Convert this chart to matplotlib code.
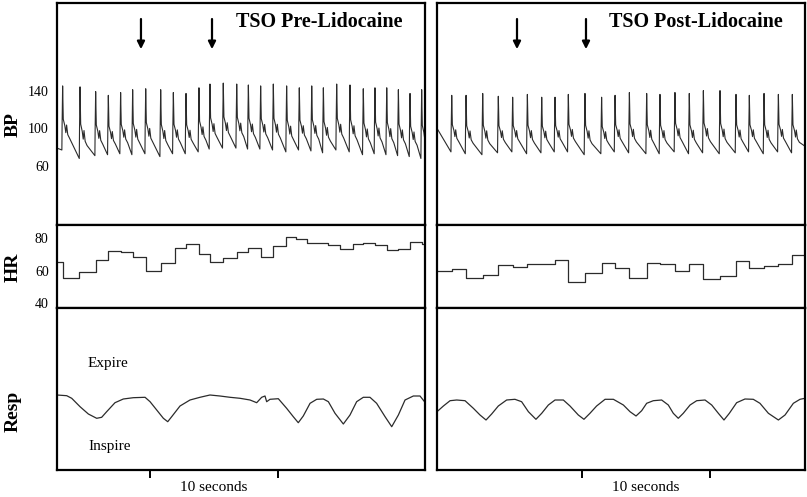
import matplotlib
matplotlib.use("Agg")
import matplotlib.pyplot as plt

plt.rcParams['font.family'] = ['Liberation Serif', 'DejaVu Serif']

XMAX = 28.75  # seconds shown in each panel

# ---- blood pressure, one entry per beat (peak time s, systolic, diastolic mmHg)
pre_peak_t = [0.44, 1.80, 3.02, 4.01, 4.97, 5.91, 6.93, 8.10, 9.09, 10.08,
              11.09, 11.95, 12.99, 14.04, 14.95, 15.91, 16.90, 17.94, 18.93, 19.90,
              20.81, 21.85, 22.89, 23.93, 24.84, 25.76, 26.67, 27.58, 28.49]
pre_sys = [145, 144, 139, 135, 138, 141, 142, 141, 138, 137,
           143, 147, 148, 147, 146, 145, 147, 145, 143, 145,
           143, 147, 146, 142, 143, 143, 141, 137, 141]
pre_dia = [77, 68, 71, 72, 73, 72, 73, 70, 73, 73,
           75, 78, 79, 79, 78, 78, 77, 75, 77, 76,
           74, 77, 75, 72, 73, 72, 71, 70, 68]
pre_bp_start, pre_bp_end = 79, 88

post_peak_t = [1.15, 2.27, 3.57, 4.79, 5.91, 7.06, 8.18, 9.22, 10.26, 11.56,
               12.86, 13.91, 15.03, 16.38, 17.42, 18.59, 19.71, 20.81, 22.11, 23.36,
               24.40, 25.55, 26.67, 27.76]
post_sys = [135, 135, 137, 134, 133, 136, 133, 133, 136, 137,
            133, 135, 138, 137, 136, 138, 137, 140, 140, 136,
            135, 137, 136, 136]
post_dia = [75, 73, 72, 74, 75, 73, 74, 75, 75, 72,
            73, 75, 74, 73, 73, 75, 73, 74, 73, 74,
            75, 73, 75, 74]
post_bp_start, post_bp_end = 100, 81

# shape of one beat: time from peak (s) and level between diastolic (0) and systolic (1)
beat_offsets = [-0.06, -0.04, 0.0, 0.05, 0.17, 0.25, 0.31, 0.40, 0.55]
beat_levels = [0.0, 0.42, 1.0, 0.48, 0.38, 0.27, 0.39, 0.24, 0.18]

# ---- heart rate steps (change time s, bpm)
pre_hr_t = [0.44, 1.74, 3.02, 4.01, 4.97, 5.91, 6.93, 8.10, 9.22, 10.08,
            11.09, 11.95, 12.99, 14.04, 14.95, 15.91, 16.90, 17.89, 18.67, 19.50,
            21.20, 22.11, 23.10, 23.93, 24.84, 25.76, 26.67, 27.58, 28.49]
pre_hr = [65.3, 55.5, 59.2, 66.7, 72.2, 71.4, 68.2, 59.6, 65.1, 73.9,
          76.3, 70.4, 65.7, 67.6, 71.4, 73.9, 68.4, 75.3, 80.6, 79.4,
          77.4, 76.1, 73.5, 76.3, 77.3, 76.1, 72.9, 73.7, 77.6, 76.7]

post_hr_t = [1.15, 2.27, 3.57, 4.79, 5.91, 7.06, 9.22, 10.26, 11.56, 12.86,
             13.91, 15.03, 16.38, 17.42, 18.59, 19.71, 20.81, 22.11, 23.36, 24.40,
             25.55, 26.67, 27.76]
post_hr = [59.6, 61.4, 55.5, 57.3, 63.5, 62.2, 63.9, 66.7, 53.1, 58.6,
           65.1, 61.8, 55.5, 64.7, 64.1, 59.6, 64.1, 54.9, 57.1, 66.3,
           62.0, 63.1, 64.3, 69.6]

# ---- respiration (time s, arbitrary units)
pre_resp_t = [0.0, 0.76, 1.15, 1.80, 2.45, 3.10, 3.49, 3.88, 4.53, 5.18,
              5.96, 6.88, 7.27, 7.79, 8.31, 8.65, 8.96, 9.61, 10.39, 11.17,
              11.95, 12.73, 13.52, 14.30, 15.08, 15.60, 15.99, 16.25, 16.38, 16.64,
              17.29, 17.94, 18.46, 18.85, 19.24, 19.77, 20.29, 20.81, 21.20, 21.72,
              22.37, 22.89, 23.41, 23.93, 24.45, 24.97, 25.63, 26.15, 26.67, 27.19,
              27.84, 28.36, 28.75]
pre_resp = [75, 74.3, 71.7, 63.3, 56, 51.7, 52.7, 58.3, 67.3, 71,
            72.3, 72.7, 68.3, 60, 51.7, 48.3, 53.3, 64, 70, 72.7,
            75, 74, 72.7, 71.7, 70, 67.3, 72.7, 74, 68.3, 70.7,
            71.3, 61.7, 53.3, 47.3, 54, 66.7, 70.7, 71, 68.3, 56.7,
            46, 55, 68.3, 72.7, 72.7, 66.7, 53.3, 43.3, 55, 70,
            74, 74, 67.7]

post_resp_t = [0.0, 0.50, 1.02, 1.54, 2.19, 2.84, 3.36, 3.83, 4.27, 4.79,
               5.44, 6.09, 6.61, 7.14, 7.73, 8.18, 8.70, 9.22, 9.87, 10.39,
               11.04, 11.48, 11.95, 12.47, 13.13, 13.78, 14.56, 15.08, 15.55, 15.99,
               16.38, 16.90, 17.55, 18.07, 18.46, 18.85, 19.24, 19.77, 20.29, 20.94,
               21.46, 21.98, 22.42, 22.84, 23.41, 24.06, 24.71, 25.23, 25.89, 26.67,
               27.19, 27.84, 28.36, 28.75]
post_resp = [58.3, 64, 69.3, 70, 69.3, 61.7, 55, 50, 56, 64,
             70, 70.7, 68.3, 58.3, 50.7, 56.7, 65, 70, 70, 64,
             55, 50.7, 56.7, 64, 70.7, 70.7, 65, 58.3, 54, 59.3,
             66.7, 69.3, 70, 65, 56.7, 51.7, 56.7, 65, 69.3, 70,
             65, 56.7, 50, 56.7, 67.3, 71, 70.7, 66.7, 56.7, 50,
             55, 66.7, 70.7, 71.7]

pre_arrows = [6.56, 12.11]
post_arrows = [6.25, 11.64]
pre_ticks = [7.27, 17.27]
post_ticks = [11.33, 21.33]

panels = [
    ("TSO Pre-Lidocaine", pre_peak_t, pre_sys, pre_dia, pre_bp_start, pre_bp_end,
     pre_hr_t, pre_hr, pre_resp_t, pre_resp, pre_arrows, pre_ticks),
    ("TSO Post-Lidocaine", post_peak_t, post_sys, post_dia, post_bp_start, post_bp_end,
     post_hr_t, post_hr, post_resp_t, post_resp, post_arrows, post_ticks),
]


def bp_trace(peak_t, sys_v, dia_v, start, end):
    t, v = [0.0], [start]
    for tp, s, d in zip(peak_t, sys_v, dia_v):
        for off, lev in zip(beat_offsets, beat_levels):
            t.append(tp + off)
            v.append(d + lev * (s - d))
    if t[-1] < XMAX:
        t.append(XMAX)
        v.append(end)
    return t, v


W, H = 807, 497
fig = plt.figure(figsize=(W / 100, H / 100), dpi=100)
trace_color = '#2b2b2b'
spine_w = 1.6

for col, (title, pk, sy, di, st, en, hr_t, hr_v, rs_t, rs_v, arrows, ticks) in enumerate(panels):
    x0 = (57 if col == 0 else 437) / W
    wd = 368 / W
    ax_bp = fig.add_axes([x0, 1 - 225 / H, wd, 222 / H])
    ax_hr = fig.add_axes([x0, 1 - 308 / H, wd, 83 / H])
    ax_rs = fig.add_axes([x0, 1 - 470 / H, wd, 162 / H])

    t, v = bp_trace(pk, sy, di, st, en)
    ax_bp.plot(t, v, color=trace_color, lw=0.8)
    ax_bp.set_ylim(-2.6, 233)
    ax_bp.text(0.94, 0.914, title, transform=ax_bp.transAxes, ha='right', va='center',
               fontsize=14.5, fontweight='bold')
    for a in arrows:
        ax_bp.annotate('', xy=(a, 184), xytext=(a, 216),
                       arrowprops=dict(arrowstyle='-|>', lw=1.6, color='black',
                                       mutation_scale=11, shrinkA=0, shrinkB=0))

    ax_hr.step([0.0] + hr_t + [XMAX], hr_v + [hr_v[-1]], where='post',
               color=trace_color, lw=0.9)
    ax_hr.set_ylim(37.1, 88.2)

    ax_rs.plot(rs_t, rs_v, color=trace_color, lw=0.9)
    ax_rs.set_ylim(0, 162)

    for ax in (ax_bp, ax_hr, ax_rs):
        ax.set_xlim(0, XMAX)
        for sp in ax.spines.values():
            sp.set_linewidth(spine_w)
        ax.tick_params(axis='y', length=0, labelsize=10, pad=6)
        ax.set_xticks([])

    if col == 0:
        ax_bp.set_yticks([60, 100, 140])
        ax_hr.set_yticks([40, 60, 80])
        ax_rs.set_yticks([])
        ax_rs.text(0.084, 0.66, "Expire", transform=ax_rs.transAxes, fontsize=11,
                   va='center')
        ax_rs.text(0.084, 0.148, "Inspire", transform=ax_rs.transAxes, fontsize=11,
                   va='center')
    else:
        for ax in (ax_bp, ax_hr, ax_rs):
            ax.set_yticks([])

    ax_rs.set_xticks(ticks)
    ax_rs.set_xticklabels([])
    ax_rs.tick_params(axis='x', direction='out', length=6, width=1.4)
    ax_rs.text(sum(ticks) / 2, -0.11, "10 seconds", transform=ax_rs.get_xaxis_transform(),
               ha='center', va='center', fontsize=11)

fig.text(13 / W, 1 - 125 / H, "BP", rotation=90, ha='center', va='center',
         fontsize=14, fontweight='bold')
fig.text(13 / W, 1 - 267 / H, "HR", rotation=90, ha='center', va='center',
         fontsize=14, fontweight='bold')
fig.text(13 / W, 1 - 411 / H, "Resp", rotation=90, ha='center', va='center',
         fontsize=14, fontweight='bold')

fig.savefig("out.png", dpi=100)
